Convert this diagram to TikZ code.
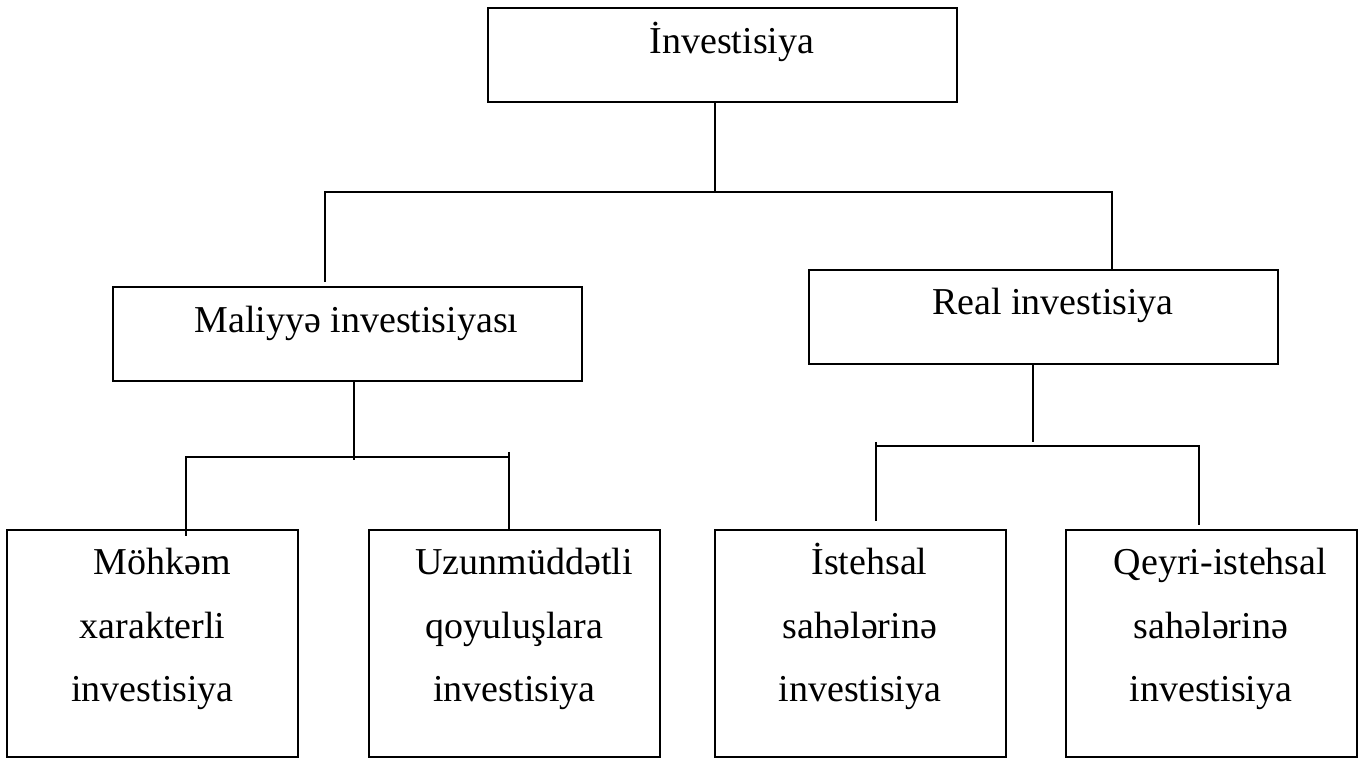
\documentclass[tikz,border=0pt]{standalone}
\usepackage{fontspec}
\setmainfont{Liberation Serif}
\usetikzlibrary{positioning}
\def\indt{\hspace*{.5em}}
\tikzset{
box/.style={draw, line width=1pt, inner sep=0pt, align=center,
	font=\fontsize{19}{31.75}\selectfont},
topbox/.style={box, minimum width=234.5pt, text height=22.5pt, text depth=24.5pt},
leafbox/.style={box, minimum width=145.5pt, text height=86pt, text depth=27.5pt},
conn/.style={line width=0.75pt},
}

\begin{document}
\begin{tikzpicture}[x=0.5pt, y=-0.5pt]
\useasboundingbox (0,0) rectangle (1367,758);

\node[topbox] (inv) at (722.5,55.5) {\indt İnvestisiya};
\node[topbox] (mal) at (347,334.5) {\indt Maliyyə investisiyası};
\node[topbox] (real) at (1043.5,317) {\indt Real investisiya};

\node[leafbox] (mohkem) at (152.5,643.5) {\indt Möhkəm\\xarakterli\\investisiya};
\node[leafbox] (uzun) at (514.5,643.5) {\indt Uzunmüddətli\\qoyuluşlara\\investisiya};
\node[leafbox] (istehsal) at (860,643.5) {\indt İstehsal\\sahələrinə\\investisiya};
\node[leafbox] (qeyri) at (1211,643.5) {\indt Qeyri-istehsal\\sahələrinə\\investisiya};

\coordinate (a0) at (715,192);
\coordinate (aL) at (325,192);
\coordinate (aR) at (1112,192);
\coordinate (aLe) at (325,282);

\coordinate (b0) at (354,460);
\coordinate (bL) at (186,457);
\coordinate (bR) at (509,457);
\coordinate (bRt) at (509,452);
\coordinate (bLe) at (186,536);

\coordinate (c0) at (1033,442);
\coordinate (cL) at (876,446);
\coordinate (cR) at (1199,446);
\coordinate (cLt) at (876,442);
\coordinate (cLe) at (876,521);
\coordinate (cRe) at (1199,525);

%
\draw[conn] (inv.south -| a0) -- (a0);
\draw[conn] (aLe) -- (aL) -- (aR) -- (real.north -| aR);

%
\draw[conn] (mal.south -| b0) -- (b0);
\draw[conn] (bLe) -- (bL) -- (bR);
\draw[conn] (bRt) -- (uzun.north -| bRt);

%
\draw[conn] (real.south -| c0) -- (c0);
\draw[conn] (cLt) -- (cLe);
\draw[conn] (cL) -- (cR) -- (cRe);
\end{tikzpicture}
\end{document}
